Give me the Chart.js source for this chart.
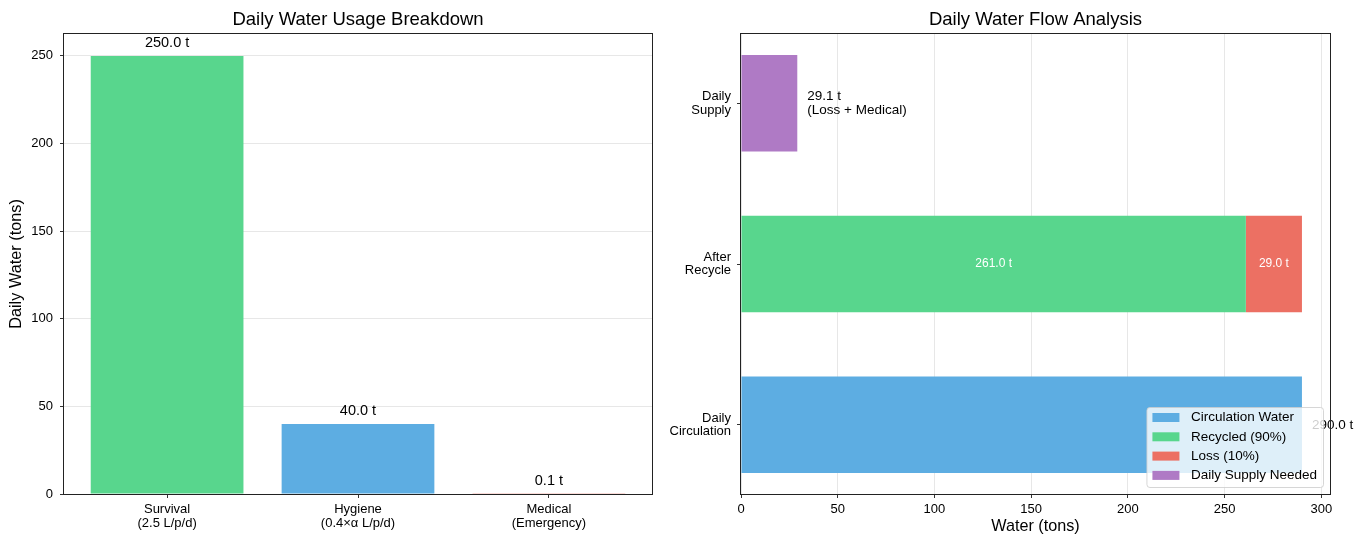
<!DOCTYPE html>
<html>
<head>
<meta charset="utf-8">
<script src="https://cdn.jsdelivr.net/npm/chart.js@4"></script>
<style>
  html, body { margin: 0; padding: 0; background: #fff; }
  #wrap { position: relative; width: 1355px; height: 536px; }
  #usageChart { position: absolute; left: 0; top: 0; }
  #flowChart { position: absolute; left: 660px; top: 0; }
</style>
</head>
<body>
<div id="wrap">
  <canvas id="usageChart" width="660" height="536"></canvas>
  <canvas id="flowChart" width="695" height="536"></canvas>
</div>
<script>
// left panel data
const usageCategories = [['Survival', '(2.5 L/p/d)'], ['Hygiene', '(0.4×α L/p/d)'], ['Medical', '(Emergency)']];
const usageValues = [250.0, 40.0, 0.1];
const usageColors = ['#58D68D', '#5DADE2', '#EC7063'];
const usageTicks = [0, 50, 100, 150, 200, 250];

// right panel data
const flowCategories = [['Daily', 'Circulation'], ['After', 'Recycle'], ['Daily', 'Supply']];
const circulationValues = [290.0, null, null];
const recycledValues = [null, 261.0, null];
const lossValues = [null, 29.0, null];
const supplyValues = [null, null, 29.1];
const flowTicks = [0, 50, 100, 150, 200, 250, 300];

const FONT = '"Liberation Sans", Arial, Helvetica, sans-serif';
Chart.defaults.font.family = FONT;
Chart.defaults.color = '#000';

const gridColor = 'rgba(176,176,176,0.3)';

function drawTitle(ctx, area, text) {
  ctx.fillStyle = '#000';
  ctx.font = '18.5px ' + FONT;
  ctx.textAlign = 'center';
  ctx.textBaseline = 'middle';
  ctx.fillText(text, (area.left + area.right) / 2, 20);
}

function drawFrame(ctx, area) {
  ctx.strokeStyle = '#222';
  ctx.lineWidth = 1;
  ctx.strokeRect(Math.round(area.left) - 0.5, Math.round(area.top) - 0.5,
    Math.round(area.right - area.left) + 1, Math.round(area.bottom - area.top) + 1);
}

const fmt = v => v.toFixed(1) + ' t';

// ---------- left chart ----------
new Chart(document.getElementById('usageChart'), {
  type: 'bar',
  data: {
    datasets: [{
      data: usageValues.map((v, i) => ({ x: i, y: v })),
      backgroundColor: usageColors,
      barPercentage: 0.8,
      categoryPercentage: 1
    }]
  },
  options: {
    responsive: false,
    animation: false,
    layout: { padding: { top: 34, right: 8, left: 0, bottom: 0 } },
    plugins: { legend: { display: false }, tooltip: { enabled: false } },
    scales: {
      x: {
        type: 'linear', min: -0.54, max: 2.54, bounds: 'data', offset: false,
        afterBuildTicks: s => { s.ticks = usageCategories.map((c, i) => ({ value: i })); },
        afterFit: s => { s.height = 42; },
        ticks: { callback: (v, i) => usageCategories[i], font: { size: 13, lineHeight: 1.08 }, padding: 4, maxRotation: 0, autoSkip: false },
        grid: { drawOnChartArea: false, offset: false, tickLength: 4, tickColor: '#333' },
        border: { display: false }
      },
      y: {
        type: 'linear', min: 0, max: 262.5, bounds: 'data', z: 1,
        afterBuildTicks: s => { s.ticks = usageTicks.map(v => ({ value: v })); },
        afterFit: s => { s.width = 64; },
        ticks: { font: { size: 13 }, padding: 7 },
        grid: { color: gridColor, tickLength: 4, tickColor: '#333' },
        border: { display: false },
        title: { display: true, text: 'Daily Water (tons)', font: { size: 16.3 }, padding: { top: 7, bottom: 0 } }
      }
    }
  },
  plugins: [{
    id: 'usageOverlay',
    afterDraw(chart) {
      const { ctx, chartArea } = chart;
      ctx.save();
      drawTitle(ctx, chartArea, 'Daily Water Usage Breakdown');
      const meta = chart.getDatasetMeta(0);
      ctx.font = '14.5px ' + FONT;
      ctx.fillStyle = '#000';
      ctx.textAlign = 'center';
      ctx.textBaseline = 'bottom';
      meta.data.forEach((el, i) => {
        ctx.fillText(fmt(usageValues[i]), el.x, el.y - 5.5);
      });
      drawFrame(ctx, chartArea);
      ctx.restore();
    }
  }]
});

// ---------- right chart ----------
const flowSeries = [
  { label: 'Circulation Water', values: circulationValues, color: '#5DADE2' },
  { label: 'Recycled (90%)', values: recycledValues, color: '#58D68D' },
  { label: 'Loss (10%)', values: lossValues, color: '#EC7063' },
  { label: 'Daily Supply Needed', values: supplyValues, color: '#AF7AC5' }
];

new Chart(document.getElementById('flowChart'), {
  type: 'bar',
  data: {
    datasets: flowSeries.map(s => ({
      label: s.label,
      data: s.values.map((v, i) => (v === null ? null : { x: v, y: i })).filter(d => d !== null),
      backgroundColor: s.color,
      barPercentage: 0.6,
      categoryPercentage: 1
    }))
  },
  options: {
    indexAxis: 'y',
    responsive: false,
    animation: false,
    layout: { padding: { top: 34, right: 25, left: 0, bottom: 0 } },
    plugins: { legend: { display: false }, tooltip: { enabled: false } },
    scales: {
      x: {
        type: 'linear', min: 0, max: 304.5, bounds: 'data', stacked: true, z: 1,
        afterBuildTicks: s => { s.ticks = flowTicks.map(v => ({ value: v })); },
        afterFit: s => { s.height = 42; },
        ticks: { font: { size: 13 }, padding: 4, maxRotation: 0 },
        grid: { color: gridColor, tickLength: 4, tickColor: '#333' },
        border: { display: false },
        title: { display: true, text: 'Water (tons)', font: { size: 16.2 }, padding: { top: 0, bottom: 0 } }
      },
      y: {
        type: 'linear', min: -0.43, max: 2.43, bounds: 'data', stacked: true, offset: false,
        afterBuildTicks: s => { s.ticks = flowCategories.map((c, i) => ({ value: i })); },
        afterFit: s => { s.width = 81; },
        ticks: { callback: (v, i) => flowCategories[i], font: { size: 13, lineHeight: 1.05 }, padding: 6, autoSkip: false },
        grid: { drawOnChartArea: false, offset: false, tickLength: 4, tickColor: '#333' },
        border: { display: false }
      }
    }
  },
  plugins: [{
    id: 'flowOverlay',
    afterDraw(chart) {
      const { ctx, chartArea } = chart;
      ctx.save();
      drawTitle(ctx, chartArea, 'Daily Water Flow Analysis');

      // value labels
      const circ = chart.getDatasetMeta(0).data[0];
      const rec = chart.getDatasetMeta(1).data[0];
      const loss = chart.getDatasetMeta(2).data[0];
      const sup = chart.getDatasetMeta(3).data[0];

      ctx.textBaseline = 'middle';
      ctx.font = '12px ' + FONT;
      ctx.fillStyle = '#fff';
      ctx.textAlign = 'center';
      ctx.fillText(fmt(recycledValues[1]), (rec.x + rec.base) / 2, rec.y);
      ctx.fillText(fmt(lossValues[1]), (loss.x + loss.base) / 2, loss.y);

      ctx.font = '13.5px ' + FONT;
      ctx.fillStyle = '#000';
      ctx.textAlign = 'left';
      ctx.fillText(fmt(circulationValues[0]), circ.x + 10, circ.y);
      ctx.fillText(fmt(supplyValues[2]), sup.x + 10, sup.y - 7);
      ctx.fillText('(Loss + Medical)', sup.x + 10, sup.y + 7.5);

      drawFrame(ctx, chartArea);

      // legend inside the plot, lower right
      ctx.font = '13.5px ' + FONT;
      const items = chart.data.datasets;
      const textW = Math.max(...items.map(d => ctx.measureText(d.label).width));
      const boxW = 44.5 + textW + 6;
      const boxH = 80;
      const bx = chartArea.right - 7 - boxW;
      const by = chartArea.bottom - 7 - boxH;
      ctx.beginPath();
      if (ctx.roundRect) ctx.roundRect(bx + 0.5, by + 0.5, boxW, boxH, 3);
      else ctx.rect(bx + 0.5, by + 0.5, boxW, boxH);
      ctx.fillStyle = 'rgba(255,255,255,0.8)';
      ctx.fill();
      ctx.strokeStyle = 'rgba(204,204,204,0.8)';
      ctx.lineWidth = 1;
      ctx.stroke();
      items.forEach((d, i) => {
        const cy = by + 10.5 + i * 19.3;
        ctx.fillStyle = d.backgroundColor;
        ctx.fillRect(bx + 6, cy - 4.5, 27, 9);
        ctx.fillStyle = '#000';
        ctx.textAlign = 'left';
        ctx.textBaseline = 'middle';
        ctx.fillText(d.label, bx + 44.5, cy);
      });
      ctx.restore();
    }
  }]
});
</script>
</body>
</html>
